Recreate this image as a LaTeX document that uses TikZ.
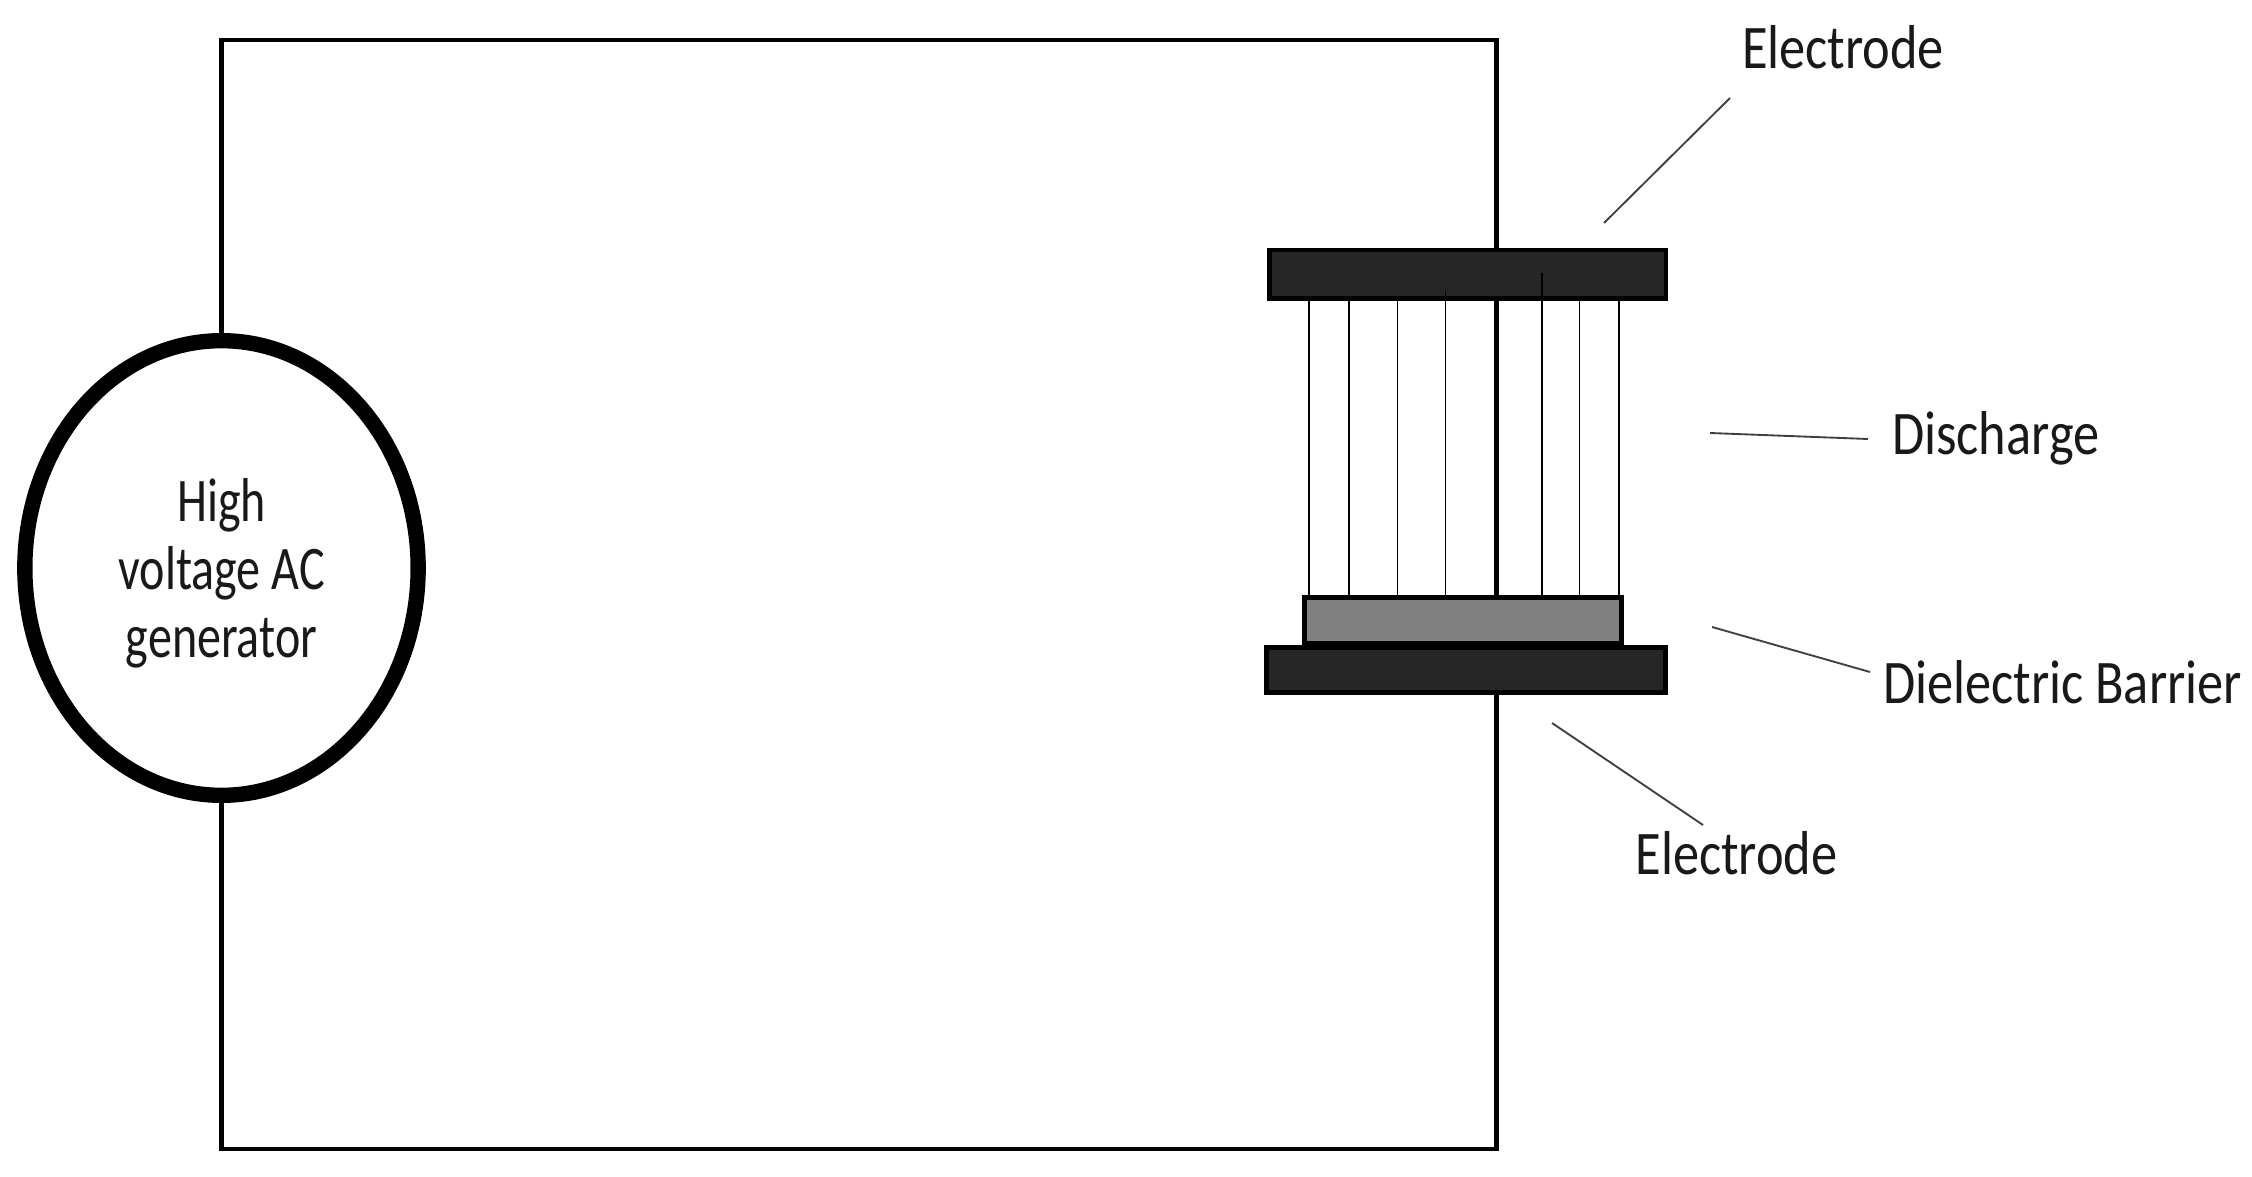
\documentclass[tikz,border=0pt]{standalone}
\usepackage{fontspec}
\setmainfont[FakeStretch=0.845]{Carlito}
\newfontfamily\innerfont[FakeStretch=0.775]{Carlito}
\usetikzlibrary{shapes.geometric}
\tikzset{
  x=0.75pt,y=-0.75pt,
  wire/.style={line width=3.4pt,black,line cap=butt},
  plate/.style={draw=black,fill=black!85,line width=3.4pt,rectangle,inner sep=0pt,outer sep=0pt},
  barrierbox/.style={draw=black,fill=black!50,line width=3.4pt,rectangle,inner sep=0pt,outer sep=0pt},
  generator/.style={draw=black,line width=11.5pt,ellipse,inner sep=0pt,outer sep=0pt,minimum width=295pt,minimum height=341pt},
  spark/.style={line width=1.45pt,black},
  leader/.style={line width=1.4pt,black!75},
  lab/.style={inner sep=0pt,outer sep=0pt,font=\fontsize{46.5pt}{51pt}\selectfont,text=black!90},
}
\begin{document}
\begin{tikzpicture}
\useasboundingbox[fill=white] (0,0) rectangle (2252,1177);
% corners of the circuit
\coordinate (wt) at (1496.5,40);
\coordinate (wb) at (1496.5,1149);
% discharge electrodes
\node[plate,minimum width=297.4pt,minimum height=36.2pt] (topel) at (1467.5,274.35) {};
\node[plate,minimum width=299.6pt,minimum height=34.1pt] (botel) at (1466,670) {};
\node[barrierbox,minimum width=238pt,minimum height=34.3pt] (barrier) at (1463,620.15) {};
% generator
\node[generator] (gen) at (221.5,568) {};
% circuit wires
\draw[wire,line cap=rect] (gen.north |- wt) -- (wt);
\draw[wire,line cap=rect] (gen.south |- wb) -- (wb);
\draw[wire] (gen.north) -- (gen.north |- wt);
\draw[wire] (gen.south) -- (gen.south |- wb);
\draw[wire] (wt) -- (wt |- topel.north);
\draw[wire] (wb) -- (wb |- botel.south);
\draw[wire] (wt |- topel.south) -- (wt |- barrier.north);
% discharge filaments
\foreach \x/\t in {1309/300,1349/300,1397.5/300,1445.5/291,1542/273,1579.5/300,1619/300}
  \draw[spark] (\x,\t) -- (\x,0 |- barrier.north);
% labels
\node[lab,anchor=base west] (el1) at (1742,69) {Electrode};
\node[lab,anchor=base west] (dis) at (1892,454) {Discharge};
\node[lab,anchor=base west] (die) at (1883,703) {Dielectric Barrier};
\node[lab,anchor=base west] (el2) at (1635.5,874) {Electrode};
\node[lab,align=center,font=\fontsize{46.5pt}{51pt}\innerfont] (gentext) at (221.5,573.5) {High\\voltage AC\\generator};
% leaders
\coordinate (l1a) at (1604,223); \coordinate (l1b) at (1730,98);
\coordinate (l2a) at (1710,433); \coordinate (l2b) at (1868,439);
\coordinate (l3a) at (1712,627); \coordinate (l3b) at (1870,672);
\coordinate (l4a) at (1552,723); \coordinate (l4b) at (1703,825);
\draw[leader] (l1a) -- (l1b);
\draw[leader] (l2a) -- (l2b);
\draw[leader] (l3a) -- (l3b);
\draw[leader] (l4a) -- (l4b);
\end{tikzpicture}
\end{document}
